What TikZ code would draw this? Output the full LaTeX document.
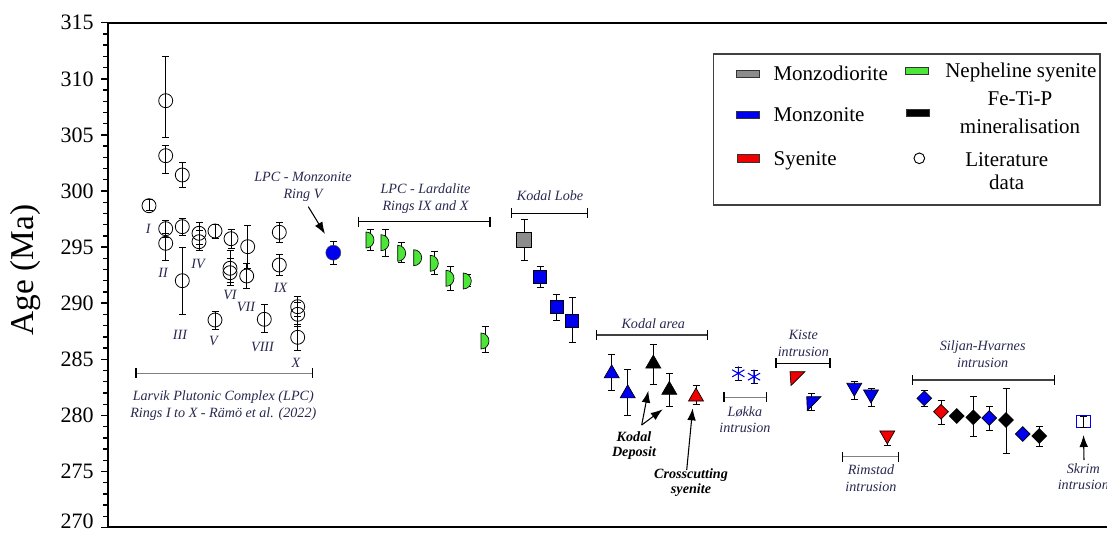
\documentclass[tikz,border=0pt]{standalone}
\usepackage{fontspec}
\setmainfont{Liberation Serif}
\usetikzlibrary{arrows.meta,shapes.geometric}
\definecolor{annot}{RGB}{40,40,80}
\definecolor{mgreen}{RGB}{76,230,57}
\definecolor{mblue}{RGB}{0,0,240}
\definecolor{mred}{RGB}{240,0,0}
\definecolor{mgray}{RGB}{140,140,140}
\newcommand\myerr[3]{\draw[errbar] (#1,#2) -- (#1,#3) (#1-3.5,#2) -- (#1+3.5,#2) (#1-3.5,#3) -- (#1+3.5,#3);}
\newcommand\mybrack[4]{\draw[#4, line width=1.1pt] (#1,#3) -- (#2,#3);
  \draw[black, line width=1.1pt] (#1,#3-5) -- (#1,#3+5) (#2,#3-5) -- (#2,#3+5);}
\newcommand\dmark[3]{\coordinate (#1) at (#2,#3);
  \filldraw[fill=mgreen, draw=black, line width=0.5pt] (#2-4,#3-8) arc[start angle=-90,end angle=90,x radius=8,y radius=8] -- cycle;}
\newcommand\astmark[3]{\coordinate (#1) at (#2,#3);
  \draw[mblue, line width=0.8pt] (#2,#3-7) -- (#2,#3+7) (#2-6.1,#3-3.5) -- (#2+6.1,#3+3.5) (#2-6.1,#3+3.5) -- (#2+6.1,#3-3.5);}
\tikzset{
  errbar/.style={draw=black, line width=0.6pt},
  lit/.style={circle, draw=black, line width=0.6pt, minimum size=10.5pt, inner sep=0pt},
  tri/.style={regular polygon, regular polygon sides=3, minimum size=13pt, inner sep=0pt, draw=black, line width=0.5pt},
  trid/.style={tri, shape border rotate=180},
  dia/.style={diamond, minimum width=11.25pt, minimum height=11.25pt, inner sep=0pt, draw=black, line width=0.5pt},
  sqm/.style={rectangle, minimum size=#1, inner sep=0pt, draw=black, line width=0.5pt},
  annotxt/.style={font=\fontsize{10.6}{12.7}\selectfont\itshape, text=annot, align=center, inner sep=0pt},
  boldtxt/.style={font=\fontsize{10.6}{11.3}\selectfont\bfseries\itshape, text=black, align=center, inner sep=0pt},
  roman/.style={font=\fontsize{10.6}{12}\selectfont\itshape, text=annot, inner sep=0pt},
  arr/.style={-{Latex[length=9pt,width=6.5pt]}, line width=0.8pt, black},
  legrect/.style={rectangle, minimum width=17pt, minimum height=5.5pt, inner sep=0pt, draw=black!80, line width=0.6pt},
  legtxt/.style={font=\fontsize{15.75}{19}\selectfont, inner sep=0pt},
  ticklab/.style={font=\fontsize{16.5}{18}\selectfont, anchor=east, inner sep=0pt},
}
\begin{document}
\begin{tikzpicture}[x=0.75pt, y=-0.75pt]
\useasboundingbox (0,0) rectangle (1107,535);
% axes
\foreach \m in {270,...,315} \draw[line width=1pt] (103,{22.7+(315-\m)*11.22}) -- (108,{22.7+(315-\m)*11.22});
\foreach \m in {270,275,...,315} {
  \draw[line width=1.1pt] (101,{22.7+(315-\m)*11.22}) -- (108,{22.7+(315-\m)*11.22});
}
\foreach \m in {275,280,...,315} {
  \node[ticklab] at (94,{22.7+(315-\m)*11.22}) {\m};
}
\node[ticklab] (lab270) at (94,521) {270};
\draw[line width=1.3pt] (1107,22.7) -- (108,22.7) -- (108,527) -- (1107,527);
\node[font=\fontsize{25}{26}\selectfont, rotate=90] (ylab) at (26,270) {Age (Ma)};

% literature data error bars
\myerr{149}{199.3}{210.7}
\myerr{165.7}{56}{137}
\myerr{165.7}{145.7}{173.3}
\myerr{165.7}{220}{237}
\myerr{165.7}{233}{260}
\myerr{182.3}{162.7}{187.3}
\myerr{182.3}{218.3}{235}
\myerr{182.3}{247.7}{314}
\myerr{199}{222}{244}
\myerr{199}{230}{250}
\myerr{215}{224}{238}
\myerr{215}{311.7}{329}
\myerr{231}{229.3}{248}
\myerr{230}{250}{282}
\myerr{230}{258}{285}
\myerr{247.7}{225}{268}
\myerr{246.7}{263}{288}
\myerr{279.3}{222.7}{242.7}
\myerr{279.3}{254}{275}
\myerr{264.3}{304.3}{332.7}
\myerr{297.7}{296}{316}
\myerr{297.7}{302}{326}
\myerr{297.7}{324}{350.7}
% literature circles
\node[lit] (l1) at (149,205.7) {};
\node[lit] (l2) at (165.7,100.7) {};
\node[lit] (l3) at (165.7,155.7) {};
\node[lit] (l4) at (165.7,228.7) {};
\node[lit] (l5) at (165.7,243.3) {};
\node[lit] (l6) at (182.3,175) {};
\node[lit] (l7) at (182.3,226.7) {};
\node[lit] (l8) at (182.3,280.7) {};
\node[lit] (l9) at (199,233.3) {};
\node[lit] (l10) at (199,241.7) {};
\node[lit] (l11) at (215,231) {};
\node[lit] (l12) at (215,320) {};
\node[lit] (l13) at (231,238.7) {};
\node[lit] (l14) at (230,268.3) {};
\node[lit] (l15) at (230,272.7) {};
\node[lit] (l16) at (247.7,246.7) {};
\node[lit] (l17) at (246.7,276) {};
\node[lit] (l18) at (279.3,232.3) {};
\node[lit] (l19) at (279.3,265) {};
\node[lit] (l20) at (264.3,319.3) {};
\node[lit] (l21) at (297.7,306.7) {};
\node[lit] (l22) at (297.7,314.3) {};
\node[lit] (l23) at (297.7,337.3) {};
% roman numerals
\node[roman] (rI) at (148.3,229) {I};
\node[roman] (rII) at (163,273) {II};
\node[roman] (rIII) at (180,335) {III};
\node[roman] (rIV) at (198,264) {IV};
\node[roman] (rV) at (213.5,341) {V};
\node[roman] (rVI) at (230,295) {VI};
\node[roman] (rVII) at (246,306.5) {VII};
\node[roman] (rVIII) at (262.5,346.5) {VIII};
\node[roman] (rIX) at (280.5,287.5) {IX};
\node[roman] (rX) at (296,362.5) {X};
\mybrack{136}{312.7}{373.3}{gray}
\node[annotxt] (larvik) at (223.3,405.3) {Larvik Plutonic Complex (LPC)\\Rings I to X - Rämö et al. (2022)};

% LPC monzonite
\myerr{333.3}{241}{264}
\node[circle, fill=mblue, draw=black!70, line width=0.4pt, minimum size=11.25pt, inner sep=0pt] (m1) at (333.3,252.7) {};
\node[annotxt] (monztxt) at (303,186.7) {LPC - Monzonite\\Ring V};
\coordinate (monzA) at (308.3,206.7);
\coordinate (monzB) at (325,234);
\draw[arr] (monzA) -- (monzB);

% Lardalite
\mybrack{358.3}{490}{221.7}{black}
\node[annotxt] (lardtxt) at (425.5,199) {LPC - Lardalite\\Rings IX and X};
\myerr{370}{229.3}{250}
\myerr{385}{229.3}{256}
\myerr{401.7}{242.7}{262.7}
\myerr{434.3}{251.7}{274.3}
\myerr{450}{266.7}{290.7}
\myerr{467.3}{274}{286}
\myerr{485}{326}{352.7}
\dmark{g1}{370}{240}
\dmark{g2}{385}{242.7}
\dmark{g3}{401.7}{253.3}
\dmark{g4}{417.7}{257.7}
\dmark{g5}{434.3}{263.3}
\dmark{g6}{450}{278.3}
\dmark{g7}{467.3}{281}
\dmark{g8}{485}{341}

% Kodal Lobe
\mybrack{511.7}{587.3}{213.3}{black}
\node[annotxt] (lobetxt) at (550,196) {Kodal Lobe};
\myerr{524}{219.3}{260.7}
\myerr{540}{266.7}{287.3}
\myerr{556.7}{294.3}{320.7}
\myerr{572.3}{297.3}{342.7}
\node[sqm=11.25pt, fill=mgray] (s1) at (524,240) {};
\node[sqm=9.75pt, fill=mblue] (s2) at (540,277.3) {};
\node[sqm=9.75pt, fill=mblue] (s3) at (556.7,307.3) {};
\node[sqm=9.75pt, fill=mblue] (s4) at (572.3,320.7) {};

% Kodal area
\mybrack{596.7}{707.3}{335}{black!75}
\node[annotxt] (areatxt) at (653.3,323.3) {Kodal area};
\myerr{611.7}{354}{390}
\myerr{627.7}{369.3}{415}
\myerr{653.3}{344}{384}
\myerr{669.3}{373.3}{406}
\myerr{696}{385}{404.3}
\node[tri, fill=mblue] (t1) at (611.7,373.5) {};
\node[tri, fill=mblue] (t2) at (627.7,393.5) {};
\node[tri, fill=black] (t3) at (653.3,363.7) {};
\node[tri, fill=black] (t4) at (669.3,390) {};
\node[tri, fill=mred] (t5) at (696,396.7) {};
\node[boldtxt] (deptxt) at (634,446) {Kodal\\Deposit};
\coordinate (depA) at (641.7,425);
\coordinate (depB) at (648.3,390.7);
\coordinate (depC) at (662.7,409.3);
\draw[arr] (depA) -- (depB);
\draw[arr] (depA) -- (depC);
\node[boldtxt] (crosstxt) at (691,482.5) {Crosscutting\\syenite};
\coordinate (crossA) at (686.7,470);
\coordinate (crossB) at (692.7,408.3);
\draw[arr] (crossA) -- (crossB);

% Lokka
\myerr{738.3}{367}{380}
\myerr{754}{370}{383.5}
\astmark{a1}{738.3}{373.3}
\astmark{a2}{754}{376.7}
\mybrack{724}{766.7}{397.3}{gray}
\node[annotxt] (lokktxt) at (745,419.7) {Løkka\\intrusion};

% Kiste
\mybrack{776}{830}{363.3}{black}
\node[annotxt] (kistetxt) at (803.3,343) {Kiste\\intrusion};
\myerr{811.7}{393.3}{410}
\coordinate (k1) at (797,377);
\filldraw[fill=mred, draw=black, line width=0.5pt] (790,371.7) -- (805,371.7) -- (791,385.5) -- cycle;
\coordinate (k2) at (813,402);
\filldraw[fill=mblue, draw=black, line width=0.5pt] (806.7,396.7) -- (821,396.7) -- (807.3,410.7) -- cycle;

% Rimstad / down triangles
\myerr{854.3}{381}{399.3}
\myerr{871}{388.3}{406}
\myerr{887.3}{432}{445}
\node[trid, fill=mblue] (e1) at (854.3,387.6) {};
\node[trid, fill=mblue] (e2) at (871,394.3) {};
\node[trid, fill=mred] (e3) at (887.3,435.3) {};
\mybrack{842.3}{898.3}{456.7}{gray}
\node[annotxt] (rimtxt) at (871,478) {Rimstad\\intrusion};

% Siljan-Hvarnes
\mybrack{912.3}{1054.3}{380}{black!75}
\node[annotxt] (siltxt) at (982.7,354.5) {Siljan-Hvarnes\\intrusion};
\myerr{924.3}{390.7}{406.7}
\myerr{941}{400}{424}
\myerr{973.3}{396.7}{436.7}
\myerr{989.3}{406}{430}
\myerr{1006}{388.3}{453.3}
\myerr{1039.3}{426.7}{446}
\node[dia, fill=mblue] (d1) at (924.3,398.3) {};
\node[dia, fill=mred] (d2) at (941,411.7) {};
\node[dia, fill=black] (d3) at (956.7,416) {};
\node[dia, fill=black] (d4) at (973.3,417.3) {};
\node[dia, fill=mblue] (d5) at (989.3,418) {};
\node[dia, fill=black] (d6) at (1006,420) {};
\node[dia, fill=mblue] (d7) at (1022.7,434) {};
\node[dia, fill=black] (d8) at (1039.3,436) {};

% Skrim
\node[rectangle, draw=mblue, line width=0.8pt, minimum width=10.5pt, minimum height=9pt, inner sep=0pt] (sk) at (1083.3,421.7) {};
\myerr{1083.3}{416.5}{427}
\node[annotxt] (skrimtxt) at (1083.3,476.7) {Skrim\\intrusion};
\coordinate (skA) at (1084,460);
\coordinate (skB) at (1083.5,435);
\draw[arr] (skA) -- (skB);

% legend
\draw[draw=black!75, line width=1pt] (713.3,54) rectangle (1100,205);
\node[legrect, fill=mgray] (lg1) at (748,74) {};
\node[legtxt, anchor=base west] (lt1) at (773.3,81) {Monzodiorite};
\node[legrect, fill=mblue] (lg2) at (748,115) {};
\node[legtxt, anchor=base west] (lt2) at (773.3,122) {Monzonite};
\node[legrect, fill=mred] (lg3) at (748.3,158.3) {};
\node[legtxt, anchor=base west] (lt3) at (773.3,165.3) {Syenite};
\node[legrect, fill=mgreen] (lg4) at (916.7,71) {};
\node[legtxt, anchor=base west] (lt4) at (945,78) {Nepheline syenite};
\node[legrect, fill=black] (lg5) at (917.7,112.7) {};
\node[legtxt, font=\fontsize{15.75}{21.3}\selectfont, align=center] (lt5) at (1020,112.5) {Fe-Ti-P\\mineralisation};
\node[circle, draw=black, line width=0.7pt, minimum size=8pt, inner sep=0pt] (lg6) at (919.3,158.3) {};
\node[legtxt, font=\fontsize{15.75}{17.6}\selectfont, align=center] (lt6) at (1006.7,171) {Literature\\data};
\end{tikzpicture}
\end{document}
